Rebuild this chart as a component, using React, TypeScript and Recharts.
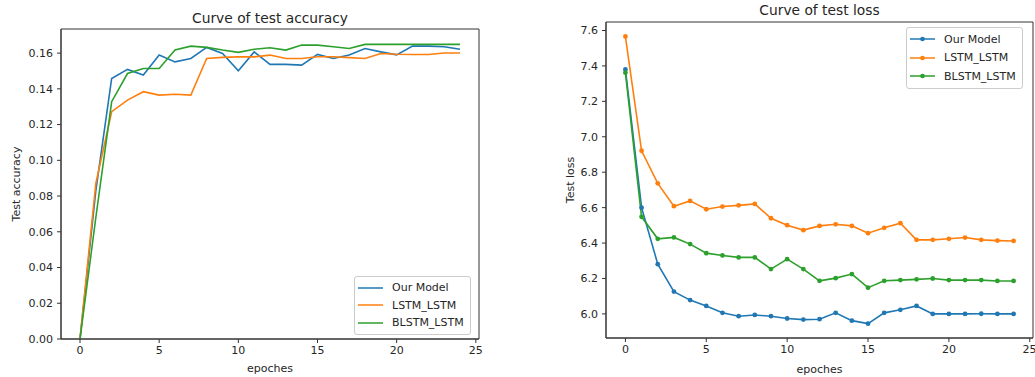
import React from "react";
import { LineChart, Line, XAxis, YAxis, Legend, ReferenceArea } from "recharts";

const FONT = "'DejaVu Sans', sans-serif";
const TEXT = "#262626";
const AXIS = "#333333";

const BLUE = "#1f77b4";
const ORANGE = "#ff7f0e";
const GREEN = "#2ca02c";

const SERIES_NAMES = ["Our Model", "LSTM_LSTM", "BLSTM_LSTM"];

const EPOCHS = [0, 1, 2, 3, 4, 5, 6, 7, 8, 9, 10, 11, 12, 13, 14, 15, 16, 17, 18, 19, 20, 21, 22, 23, 24];
const X_TICKS = [0, 5, 10, 15, 20, 25];

// test accuracy
const accOurs = [0, 0.083, 0.1458, 0.1509, 0.1477, 0.1589, 0.1551, 0.157, 0.1632, 0.1598, 0.1501, 0.1607, 0.1537, 0.1537, 0.1533, 0.1593, 0.157, 0.159, 0.1626, 0.1607, 0.159, 0.1639, 0.1639, 0.1636, 0.1622];
const accLstm = [0, 0.0871, 0.1272, 0.1337, 0.1384, 0.1365, 0.137, 0.1365, 0.157, 0.1576, 0.1579, 0.1579, 0.1589, 0.157, 0.157, 0.158, 0.158, 0.1575, 0.157, 0.1598, 0.1594, 0.1592, 0.1592, 0.1601, 0.1601];
const accBlstm = [0, 0.068, 0.1328, 0.1486, 0.1514, 0.1514, 0.1617, 0.1639, 0.1632, 0.1617, 0.1604, 0.1622, 0.163, 0.1617, 0.1645, 0.1645, 0.1636, 0.1626, 0.1649, 0.1649, 0.1649, 0.1649, 0.1649, 0.1649, 0.1649];
const ACC_TICKS = [0, 0.02, 0.04, 0.06, 0.08, 0.1, 0.12, 0.14, 0.16];

// test loss
const lossOurs = [7.38, 6.6, 6.281, 6.126, 6.078, 6.045, 6.006, 5.987, 5.994, 5.987, 5.974, 5.968, 5.97, 6.006, 5.962, 5.945, 6.006, 6.023, 6.045, 6.0, 6.0, 6.0, 6.001, 6.0, 6.0];
const lossLstm = [7.566, 6.921, 6.737, 6.608, 6.638, 6.591, 6.606, 6.613, 6.621, 6.54, 6.501, 6.473, 6.497, 6.506, 6.497, 6.456, 6.486, 6.512, 6.418, 6.418, 6.424, 6.431, 6.418, 6.414, 6.412];
const lossBlstm = [7.362, 6.548, 6.424, 6.432, 6.394, 6.343, 6.33, 6.319, 6.319, 6.253, 6.309, 6.253, 6.187, 6.202, 6.225, 6.148, 6.187, 6.191, 6.195, 6.2, 6.191, 6.191, 6.191, 6.186, 6.186];
const LOSS_TICKS = [6.0, 6.2, 6.4, 6.6, 6.8, 7.0, 7.2, 7.4, 7.6];

const X_DOMAIN: [number, number] = [-1.2, 25.2];
const ACC_DOMAIN: [number, number] = [0, 0.1735];
const LOSS_DOMAIN: [number, number] = [5.864, 7.648];

const accData = EPOCHS.map((e, i) => ({ epoch: e, ours: accOurs[i], lstm: accLstm[i], blstm: accBlstm[i] }));
const lossData = EPOCHS.map((e, i) => ({ epoch: e, ours: lossOurs[i], lstm: lossLstm[i], blstm: lossBlstm[i] }));

const tickStyle = { fontSize: 11, fill: TEXT, fontFamily: FONT };

function LegendBox({ payload, markers, rowHeight }: { payload?: any[]; markers: boolean; rowHeight: number }) {
  // keep the plotting order, recharts sorts the payload by name
  const items = [...(payload ?? [])].sort(
    (a, b) => SERIES_NAMES.indexOf(a.value) - SERIES_NAMES.indexOf(b.value)
  );
  return (
    <div
      style={{
        background: "rgba(255,255,255,0.8)",
        border: "1px solid #cccccc",
        borderRadius: 3,
        padding: "2px 6px 2px 3px",
        fontFamily: FONT,
        fontSize: 11,
        color: TEXT
      }}
    >
      {items.map((p) => (
        <div key={p.value} style={{ display: "flex", alignItems: "center", height: rowHeight }}>
          <svg width={25} height={8} style={{ marginRight: 9 }}>
            <line x1={0} y1={4} x2={25} y2={4} stroke={p.color} strokeWidth={1.5} />
            {markers && <circle cx={12.5} cy={4} r={2.3} fill={p.color} />}
          </svg>
          <span>{p.value}</span>
        </div>
      ))}
    </div>
  );
}

function Text({ x, y, children, size = 11, rotate = false }: any) {
  return (
    <div
      style={{
        position: "absolute",
        left: x,
        top: y,
        transform: `translate(-50%, -50%)${rotate ? " rotate(-90deg)" : ""}`,
        fontFamily: FONT,
        fontSize: size,
        color: TEXT,
        whiteSpace: "nowrap"
      }}
    >
      {children}
    </div>
  );
}

export default function App() {
  return (
    <div style={{ position: "absolute", left: 0, top: 0, width: 1035, height: 377, background: "#fff", overflow: "hidden" }}>
      {/* accuracy */}
      <div style={{ position: "absolute", left: 0, top: 0 }}>
        <LineChart width={490} height={377} data={accData} margin={{ top: 29, right: 11, bottom: 0, left: 0 }}>
          <XAxis
            dataKey="epoch"
            type="number"
            domain={X_DOMAIN}
            ticks={X_TICKS}
            allowDataOverflow
            height={38}
            tick={tickStyle}
            tickSize={4}
            tickMargin={3}
            stroke={AXIS}
          />
          <YAxis
            type="number"
            domain={ACC_DOMAIN}
            ticks={ACC_TICKS}
            allowDataOverflow
            width={61}
            tick={tickStyle}
            tickSize={4}
            tickMargin={4}
            stroke={AXIS}
            tickFormatter={(v: number) => v.toFixed(2)}
          />
          <ReferenceArea x1={X_DOMAIN[0]} x2={X_DOMAIN[1]} y1={ACC_DOMAIN[0]} y2={ACC_DOMAIN[1]} fill="none" stroke={AXIS} strokeWidth={1} ifOverflow="visible" />
          <Line dataKey="ours" name={SERIES_NAMES[0]} stroke={BLUE} strokeWidth={1.6} dot={false} isAnimationActive={false} />
          <Line dataKey="lstm" name={SERIES_NAMES[1]} stroke={ORANGE} strokeWidth={1.6} dot={false} isAnimationActive={false} />
          <Line dataKey="blstm" name={SERIES_NAMES[2]} stroke={GREEN} strokeWidth={1.6} dot={false} isAnimationActive={false} />
          <Legend
            layout="vertical"
            align="center"
            verticalAlign="middle"
            wrapperStyle={{ left: 354, top: 276, width: "auto", right: "auto", bottom: "auto" }}
            content={(props: any) => <LegendBox payload={props.payload} markers={false} rowHeight={17.5} />}
          />
        </LineChart>
        <Text x={270} y={18} size={13.8}>Curve of test accuracy</Text>
        <Text x={270} y={368}>epoches</Text>
        <Text x={16} y={184} rotate>Test accuracy</Text>
      </div>

      {/* loss */}
      <div style={{ position: "absolute", left: 490, top: 0, width: 545, height: 377 }}>
        <LineChart width={545} height={377} data={lossData} margin={{ top: 22, right: 2, bottom: 0, left: 0 }}>
          <XAxis
            dataKey="epoch"
            type="number"
            domain={X_DOMAIN}
            ticks={X_TICKS}
            allowDataOverflow
            height={39}
            tick={tickStyle}
            tickSize={4}
            tickMargin={3}
            stroke={AXIS}
          />
          <YAxis
            type="number"
            domain={LOSS_DOMAIN}
            ticks={LOSS_TICKS}
            allowDataOverflow
            width={116}
            tick={tickStyle}
            tickSize={4}
            tickMargin={4}
            stroke={AXIS}
            tickFormatter={(v: number) => v.toFixed(1)}
          />
          <ReferenceArea x1={X_DOMAIN[0]} x2={X_DOMAIN[1]} y1={LOSS_DOMAIN[0]} y2={LOSS_DOMAIN[1]} fill="none" stroke={AXIS} strokeWidth={1} ifOverflow="visible" />
          <Line dataKey="ours" name={SERIES_NAMES[0]} stroke={BLUE} strokeWidth={1.6} dot={{ r: 2.4, fill: BLUE, stroke: BLUE, strokeWidth: 0 }} isAnimationActive={false} />
          <Line dataKey="lstm" name={SERIES_NAMES[1]} stroke={ORANGE} strokeWidth={1.6} dot={{ r: 2.4, fill: ORANGE, stroke: ORANGE, strokeWidth: 0 }} isAnimationActive={false} />
          <Line dataKey="blstm" name={SERIES_NAMES[2]} stroke={GREEN} strokeWidth={1.6} dot={{ r: 2.4, fill: GREEN, stroke: GREEN, strokeWidth: 0 }} isAnimationActive={false} />
          <Legend
            layout="vertical"
            align="center"
            verticalAlign="middle"
            wrapperStyle={{ left: 416, top: 27, width: "auto", right: "auto", bottom: "auto" }}
            content={(props: any) => <LegendBox payload={props.payload} markers rowHeight={18.5} />}
          />
        </LineChart>
        <Text x={329.5} y={10} size={13.8}>Curve of test loss</Text>
        <Text x={329.5} y={369}>epoches</Text>
        <Text x={80} y={180} rotate>Test loss</Text>
      </div>
    </div>
  );
}
